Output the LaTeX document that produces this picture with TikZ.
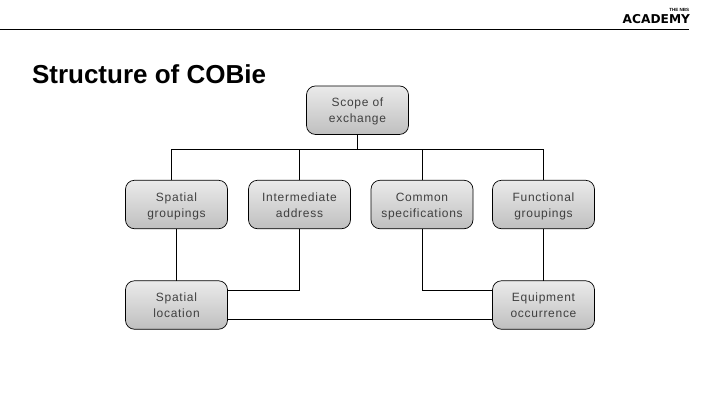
\documentclass[tikz,border=0pt]{standalone}
\usepackage{fontspec}
\setmainfont{Liberation Sans}
\newfontfamily\boxfont[LetterSpace=6]{Liberation Sans}
\newfontfamily\logofont{DejaVu Sans}
\usetikzlibrary{positioning}
\definecolor{boxtop}{gray}{0.92}
\definecolor{boxbottom}{gray}{0.75}

\begin{document}
\begin{tikzpicture}[x=1pt,y=-1pt,outer sep=0pt]
\tikzset{
  box/.style={draw=black, line width=0.7pt, rounded corners=9pt, top color=boxtop, bottom color=boxbottom,
    minimum width=102pt, minimum height=48.5pt, align=center, text=black!75, font=\boxfont\fontsize{12}{16}\selectfont,
    text height=28pt, text depth=3pt},
  link/.style={draw=black, line width=0.8pt}
}
    \useasboundingbox (0,0) rectangle (720,405);

    \node (title) [anchor=base west, inner sep=0pt, font=\bfseries\fontsize{26}{30}\selectfont] at (32,83) {Structure of COBie};
    \node (logo) [anchor=base east, inner sep=0pt, font=\logofont\bfseries\fontsize{12.2}{14}\selectfont] at (690,23) {ACADEMY};
    \node (logotop) [anchor=base east, inner sep=0pt, font=\bfseries\fontsize{4.5}{5}\selectfont] at (689,11.5) {THE NBS};
    \coordinate (ruleL) at (0,29);
    \coordinate (ruleR) at (689,29);
    \draw[line width=0.8pt] (ruleL) -- (ruleR);

    \node (scope) [box] at (357.5,110.2) {Scope of\\exchange};
    \node (spatialg) [box] at (176.5,204.5) {Spatial\\groupings};
    \node (inter) [box] at (299.5,204.5) {Intermediate\\address};
    \node (common) [box] at (422,204.5) {Common\\specifications};
    \node (func) [box] at (543.5,204.5) {Functional\\groupings};
    \node (spatiall) [box] at (176.5,305) {Spatial\\location};
    \node (equip) [box] at (543.5,305) {Equipment\\occurrence};

    % bus under the top box
    \coordinate (busL) at (171.5,149);
    \coordinate (busR) at (543.5,149);
    \coordinate (busT) at (357.5,149);
    \draw[link] (scope.south) -- (busT);
    \draw[link] (spatialg.north -| busL) -- (busL) -- (busR) -- (func.north);
    \draw[link] (inter.north) -- (inter.north |- busT);
    \draw[link] (common.north) -- (common.north |- busT);

    % lower links
    \coordinate (lowA) at (227.5,290.5);
    \coordinate (lowB) at (492.5,290.5);
    \coordinate (lowC) at (227.5,319.5);
    \coordinate (lowD) at (492.5,319.5);
    \draw[link] (spatialg.south) -- (spatiall.north);
    \draw[link] (func.south) -- (equip.north);
    \draw[link] (inter.south) -- (inter.south |- lowA) -- (lowA);
    \draw[link] (common.south) -- (common.south |- lowB) -- (lowB);
    \draw[link] (lowC) -- (lowD);
\end{tikzpicture}
\end{document}
